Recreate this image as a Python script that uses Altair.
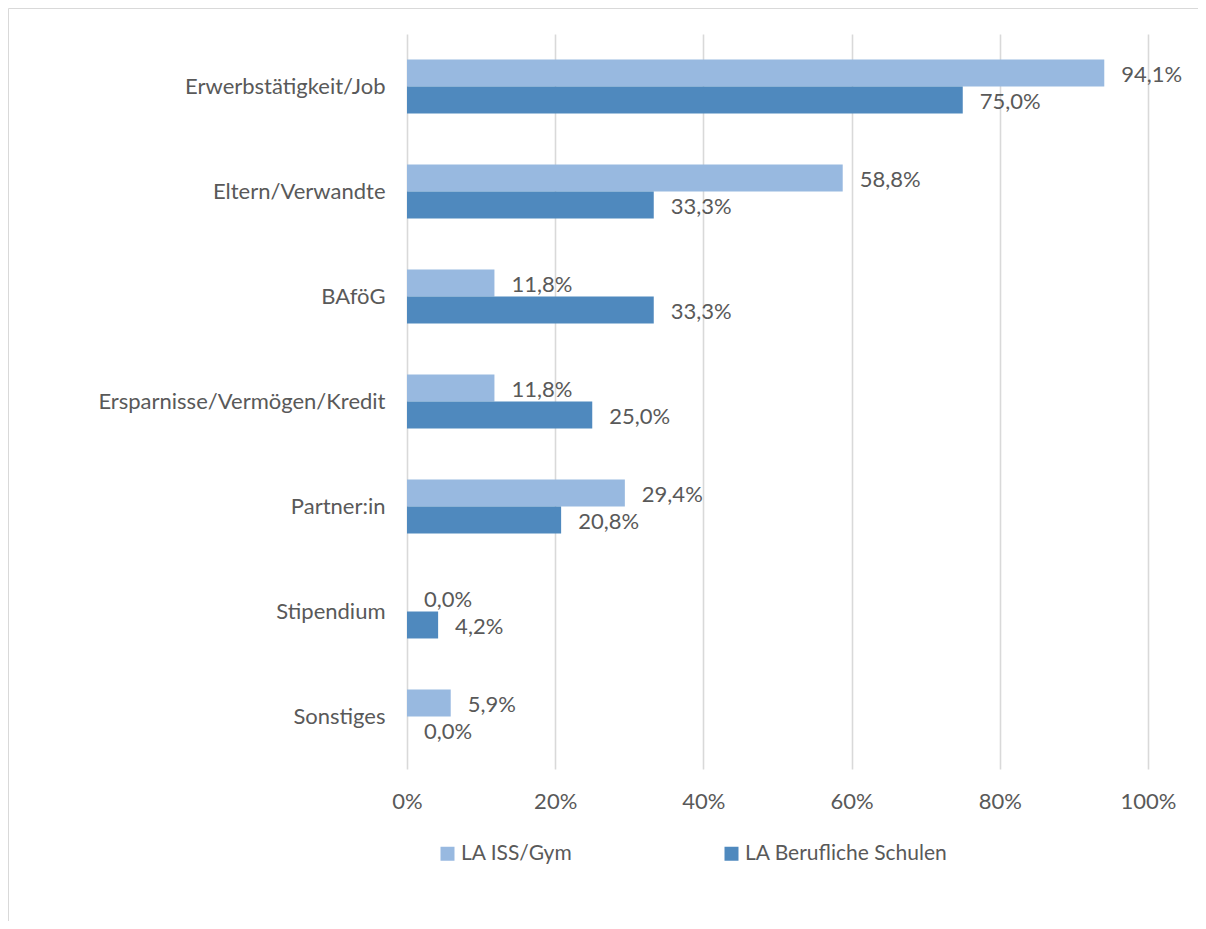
import altair as alt
import pandas as pd

categories = [
    "Erwerbstätigkeit/Job",
    "Eltern/Verwandte",
    "BAföG",
    "Ersparnisse/Vermögen/Kredit",
    "Partner:in",
    "Stipendium",
    "Sonstiges",
]
series = ["LA ISS/Gym", "LA Berufliche Schulen"]
iss_values = [94.1, 58.8, 11.8, 11.8, 29.4, 0.0, 5.9]
beruf_values = [75.0, 33.3, 33.3, 25.0, 20.8, 4.2, 0.0]
tick_values = [0, 20, 40, 60, 80, 100]
colors = ["#98B9E0", "#4F89BE"]


def fmt(v):
    return f"{v:.1f}%".replace(".", ",")


rows = []
for c, a, b in zip(categories, iss_values, beruf_values):
    rows.append({"cat": c, "series": series[0], "value": a, "label": fmt(a)})
    rows.append({"cat": c, "series": series[1], "value": b, "label": fmt(b)})
df = pd.DataFrame(rows)

FONT = "Lato"
TEXT = "#595959"
FS = 22
W, H = 741, 735

y = alt.Y(
    "cat:N",
    sort=categories,
    scale=alt.Scale(paddingInner=0.486, paddingOuter=0.243),
    axis=alt.Axis(
        title=None, labelFontSize=FS, labelPadding=22, ticks=False, domain=False,
        labelColor=TEXT, labelFont=FONT, labelLimit=400,
    ),
)
yoff = alt.YOffset("series:N", sort=series, scale=alt.Scale(paddingInner=0, paddingOuter=0))
x = alt.X(
    "value:Q",
    scale=alt.Scale(domain=[0, 100], nice=False),
    axis=alt.Axis(
        values=tick_values, labelExpr="datum.value + '%'", title=None, grid=True,
        gridColor="#D9D9D9", gridWidth=1.6, ticks=False, domain=False,
        labelPadding=32, labelBaseline="middle", labelFlush=False,
        labelFont=FONT, labelFontSize=FS, labelColor=TEXT,
    ),
)
color = alt.Color(
    "series:N",
    sort=series,
    scale=alt.Scale(domain=series, range=colors),
    legend=alt.Legend(
        title=None, orient="none", legendX=30, legendY=809, direction="horizontal",
        symbolType="square", symbolSize=196, symbolStrokeWidth=0,
        labelFont=FONT, labelFontSize=21, labelColor=TEXT, labelOffset=3,
        labelLimit=400, columnPadding=148,
    ),
)

bars = alt.Chart(df).mark_bar().encode(y=y, yOffset=yoff, x=x, color=color)
text = alt.Chart(df).mark_text(
    align="left", baseline="middle", dx=17, dy=2, font=FONT, fontSize=FS, color=TEXT
).encode(y=y, yOffset=yoff, x="value:Q", text="label:N")
frame = alt.Chart(pd.DataFrame({"k": [0]})).mark_rect(
    fillOpacity=0, stroke="#D9D9D9", strokeWidth=1
).encode(
    x=alt.value(-398.5), x2=alt.value(W + 200), y=alt.value(-25.5), y2=alt.value(H + 400)
)

chart = (
    alt.layer(frame, bars, text)
    .properties(
        width=W,
        height=H,
        autosize=alt.AutoSizeParams(type="none"),
        padding={"left": 399, "top": 26, "right": 50, "bottom": 152},
        background="white",
    )
    .configure_view(stroke=None)
)

chart.save("out.html", embed_options={"renderer": "svg", "actions": False})
